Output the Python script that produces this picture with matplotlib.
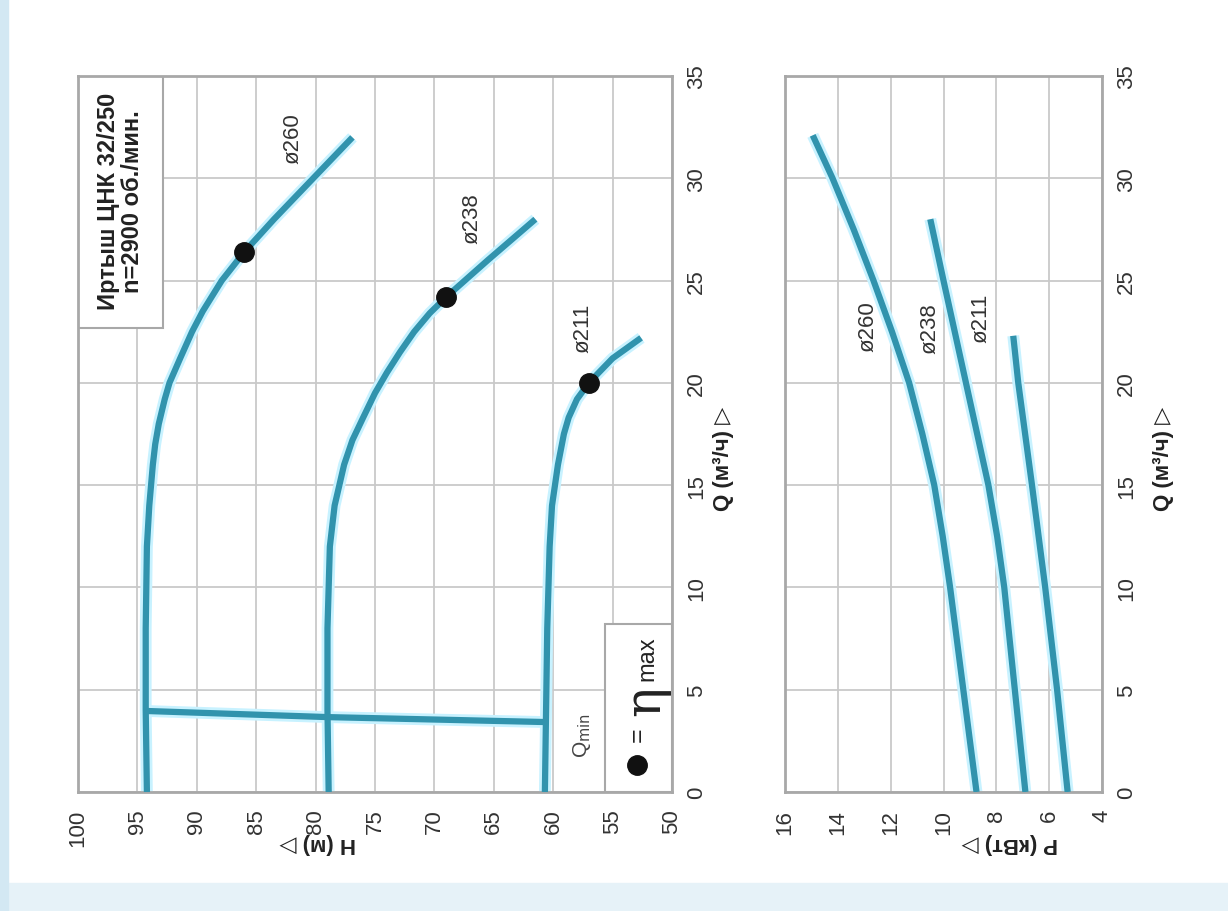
import matplotlib.pyplot as plt
from matplotlib.patches import Rectangle

plt.rcParams['font.family'] = ['Liberation Sans', 'DejaVu Sans']

# --- 1. DADOS: curvas H(Q) para cada rotor ---
q_260 = [0, 4, 8, 12, 14, 16, 17, 18, 19.2, 20, 21.2, 22.5, 23.5, 25, 26.4, 28, 30, 32]
h_260 = [94.2, 94.3, 94.3, 94.2, 94.0, 93.7, 93.5, 93.2, 92.7, 92.3, 91.4, 90.4, 89.5, 87.9,
         86.0, 83.5, 80.2, 76.9]

q_238 = [0, 4, 8, 12, 14, 16, 17.2, 18.3, 19.5, 20.5, 21.5, 22.5, 23.4, 24.2, 26, 28]
h_238 = [78.9, 79.0, 79.0, 78.8, 78.4, 77.6, 76.9, 76.0, 75.0, 74.0, 72.9, 71.7, 70.4, 69.0,
         65.5, 61.5]

q_211 = [0, 4, 8, 12, 14, 16, 17.5, 18.3, 19.2, 20.0, 21.2, 22.2]
h_211 = [60.7, 60.6, 60.5, 60.3, 60.1, 59.6, 59.1, 58.7, 58.0, 57.0, 55.0, 52.6]

# pontos de rendimento maximo (eta max)
q_eta = [26.4, 24.2, 20.0]
h_eta = [86.0, 69.0, 57.0]

# linha Q min
q_qmin = [3.96, 3.66, 3.42]
h_qmin = [94.2, 78.9, 60.7]

# --- 2. DADOS: curvas P(Q) ---
qp_260 = [0, 5, 10, 12.5, 15, 17.5, 20, 22.5, 25, 27.5, 30, 32.1]
p_260 = [8.75, 9.25, 9.75, 10.03, 10.35, 10.8, 11.3, 11.95, 12.65, 13.4, 14.2, 14.95]

qp_238 = [0, 5, 10, 12.5, 15, 20, 25, 28]
p_238 = [6.9, 7.3, 7.7, 7.97, 8.3, 9.15, 10.0, 10.5]

qp_211 = [0, 5, 10, 15, 20, 22.3]
p_211 = [5.3, 5.7, 6.15, 6.65, 7.17, 7.36]

rotores = ['ø260', 'ø238', 'ø211']
pos_rotulos_h = [(81.9, 32.0), (66.8, 28.1), (57.5, 22.7)]
pos_rotulos_p = [(12.86, 22.8), (10.5, 22.7), (8.6, 23.2)]

h_ticks = list(range(100, 49, -5))
p_ticks = list(range(16, 3, -2))
q_ticks = list(range(0, 36, 5))

COR = '#3193ad'
BRILHO = '#c8f2ff'
TXT = '#333333'


def curva(ax, x, y):
    ax.plot(x, y, color=BRILHO, lw=8.5, solid_capstyle='butt', solid_joinstyle='round', zorder=2)
    ax.plot(x, y, color=COR, lw=4.5, solid_capstyle='butt', solid_joinstyle='round', zorder=3)


def configurar_eixo(ax, xlim, xticks):
    ax.set_xlim(*xlim)
    ax.set_ylim(0, 35)
    ax.set_xticks(xticks)
    ax.set_yticks(q_ticks)
    ax.grid(True, color='#c9c9c9', lw=1.3)
    ax.set_axisbelow(True)
    for s in ax.spines.values():
        s.set_color('#a8a8a8')
        s.set_linewidth(2)
    ax.yaxis.tick_right()
    ax.tick_params(length=0, labelsize=16, labelcolor=TXT)
    ax.tick_params(axis='x', pad=12, labelrotation=90)
    ax.tick_params(axis='y', pad=10, labelrotation=90)
    for lab in ax.get_yticklabels():
        lab.set_va('center')


fig = plt.figure(figsize=(12.28, 9.12), dpi=100)
fig.patches.append(Rectangle((0, 0), 1, 28 / 912, transform=fig.transFigure,
                             color='#e6f2f8', zorder=0))
fig.patches.append(Rectangle((0, 0), 8 / 1228, 1, transform=fig.transFigure,
                             color='#d3e8f3', zorder=0))

# --- 3. GRAFICO H(Q) ---
ax1 = fig.add_axes([78 / 1228, 119 / 912, 594 / 1228, 716 / 912])
configurar_eixo(ax1, (100, 50), h_ticks)

for h, q in [(h_260, q_260), (h_238, q_238), (h_211, q_211)]:
    curva(ax1, h, q)
curva(ax1, h_qmin, q_qmin)
ax1.plot(h_eta, q_eta, 'o', color='#111111', ms=14, zorder=4)

for nome, (x, y) in zip(rotores, pos_rotulos_h):
    ax1.text(x, y, nome, rotation=90, fontsize=16, color=TXT, ha='center', va='center')

# caixa com o nome da bomba
ax1.add_patch(Rectangle((0, 1 - 252 / 716), 85 / 594, 252 / 716, transform=ax1.transAxes,
                        facecolor='white', edgecolor='#a8a8a8', lw=1.5, zorder=1.5))
ax1.text(0.071, 0.826, 'Иртыш ЦНК 32/250\nn=2900 об./мин.', transform=ax1.transAxes,
         rotation=90, fontsize=17, fontweight='bold', color='#222222',
         ha='center', va='center', multialignment='center', linespacing=1.05)

# legenda eta max
ax1.add_patch(Rectangle((0.887, 0), 0.113, 0.235, transform=ax1.transAxes,
                        facecolor='white', edgecolor='#a8a8a8', lw=1.5, zorder=1.5))
ax1.plot([0.941], [0.038], 'o', color='#111111', ms=14, transform=ax1.transAxes,
         clip_on=False, zorder=4)
ax1.text(0.943, 0.082, '=', transform=ax1.transAxes, rotation=90, fontsize=18,
         color='#222222', ha='center', va='center')
ax1.text(0.955, 0.128, 'η', transform=ax1.transAxes, rotation=90, fontsize=36,
         family='DejaVu Serif', color='#222222', ha='center', va='center')
ax1.text(0.958, 0.188, 'max', transform=ax1.transAxes, rotation=90, fontsize=17,
         color='#222222', ha='center', va='center')
ax1.text(0.848, 0.080, 'Q$_{\\rm min}$', transform=ax1.transAxes, rotation=90,
         fontsize=15, color='#444444', ha='center', va='center')

ax1.text(0.404, -0.071, 'H (м) ▷', transform=ax1.transAxes, rotation=180,
         fontsize=16, fontweight='bold', color='#222222', ha='center', va='center')
ax1.text(1.086, 0.466, 'Q (м³/ч) ▷', transform=ax1.transAxes, rotation=90,
         fontsize=16, fontweight='bold', color='#222222', ha='center', va='center')

# --- 4. GRAFICO P(Q) ---
ax2 = fig.add_axes([785 / 1228, 119 / 912, 317 / 1228, 716 / 912])
configurar_eixo(ax2, (16, 4), p_ticks)

for p, q in [(p_260, qp_260), (p_238, qp_238), (p_211, qp_211)]:
    curva(ax2, p, q)

for nome, (x, y) in zip(rotores, pos_rotulos_p):
    ax2.text(x, y, nome, rotation=90, fontsize=16, color=TXT, ha='center', va='center')

ax2.text(0.71, -0.071, 'P (кВт) ▷', transform=ax2.transAxes, rotation=180,
         fontsize=16, fontweight='bold', color='#222222', ha='center', va='center')
ax2.text(1.195, 0.466, 'Q (м³/ч) ▷', transform=ax2.transAxes, rotation=90,
         fontsize=16, fontweight='bold', color='#222222', ha='center', va='center')

fig.savefig('out.png', dpi=100)
